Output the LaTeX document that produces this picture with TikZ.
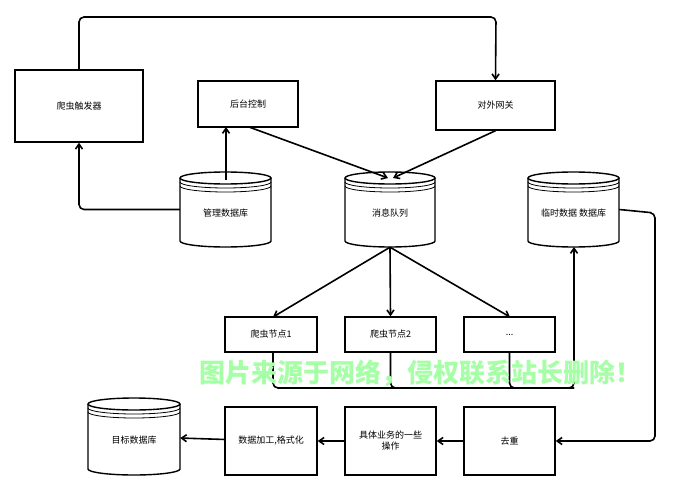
\documentclass[tikz,border=0pt]{standalone}
\usepackage{fontspec}
\setmainfont{Noto Sans CJK SC}
\usetikzlibrary{arrows.meta}
\newcommand\mydb[6]{% name x1 y1 x2 y2 text
  \pgfmathsetmacro\cx{(#2+#4)/2}\pgfmathsetmacro\rx{(#4-#2)/2}
  \fill[white] (#2,#3+6) -- (#2,#5-6) arc[start angle=180,end angle=360,x radius=\rx,y radius=-6] -- (#4,#3+6) arc[start angle=0,end angle=180,x radius=\rx,y radius=6];
  \draw[line width=1.4pt] (#2,#3+6) -- (#2,#5-6) arc[start angle=180,end angle=360,x radius=\rx,y radius=-6] -- (#4,#3+6);
  \draw[line width=1.4pt] (\cx,#3+6) ellipse[x radius=\rx,y radius=6];
  \draw[line width=0.8pt] (#2,#3+10) arc[start angle=180,end angle=360,x radius=\rx,y radius=-6];
  \draw[line width=0.8pt] (#2,#3+14) arc[start angle=180,end angle=360,x radius=\rx,y radius=-6];
  \node[inner sep=0,minimum width=#4-#2,minimum height=#5-#3] (#1) at (\cx,{(#3+#5)/2}) {};
  \node[txt] at (\cx,{(#3+#5)/2+4}) {#6};
}
\tikzset{
  txt/.style={font=\fontsize{9}{11}\selectfont,align=center},
  box/.style={draw,line width=1.4pt,fill=white,font=\fontsize{9}{11}\selectfont,align=center,inner sep=0},
  arr/.style={line width=1.6pt,-{Straight Barb[length=5pt,width=7pt]},rounded corners=5pt},
  ln/.style={line width=1.6pt,rounded corners=5pt}
}
\newcommand\bx[6]{\node[box,minimum width=#4-#2,minimum height=#5-#3] (#1) at ({(#2+#4)/2},{(#3+#5)/2}) {#6};}
\begin{document}
\begin{tikzpicture}[x=1pt,y=-1pt]
\useasboundingbox (0,0) rectangle (692,500);
\bx{trig}{15}{70}{143}{142}{爬虫触发器}
\bx{ctrl}{198}{81}{298}{127}{后台控制}
\bx{gw}{436}{81}{555}{130}{对外网关}
\mydb{mdb}{180}{172}{271}{247}{管理数据库}
\mydb{mq}{345}{172}{435}{247}{消息队列}
\mydb{tdb}{528}{172}{619}{247}{临时数据 数据库}
\bx{n1}{225}{317}{317}{352}{爬虫节点1}
\bx{n2}{345}{317}{436}{352}{爬虫节点2}
\bx{n3}{464}{317}{555}{352}{...}
\mydb{odb}{88}{398}{180}{475}{目标数据库}
\bx{proc}{225}{407}{317}{475}{数据加工,格式化}
\bx{biz}{345}{407}{436}{475}{具体业务的一些\\操作}
\bx{dedup}{464}{407}{555}{475}{去重}
\coordinate (c1) at (226,127);
\draw[arr] (trig.north) |- (496,17) -- (gw.north);
\draw[arr] (mdb.west) -| (trig.south);
\draw[arr] (226,180) -- (c1);
\draw[arr] (249,127) -- (388,178);
\draw[arr] (gw.south) -- (393,178);
\draw[arr] (mq.south) -- (273,317);
\draw[arr] (mq.south) -- (n2.north);
\draw[arr] (mq.south) -- (510,317);
\draw[ln] (273,352) |- (574,388);
\draw[ln] (n2.south) |- (574,388);
\draw[arr] (n3.south) |- (574,388) -- (574,247);
\draw[arr] (tdb.east) -- (655,213) |- (dedup.east);
\draw[arr] (dedup) -- (biz);
\draw[arr] (biz) -- (proc);
\draw[arr] (proc) -- (odb);
\node[font=\bfseries\fontsize{26}{30}\selectfont,text=green!35] (wm) at (420,373) {图片来源于网络，侵权联系站长删除！};
\end{tikzpicture}
\end{document}
